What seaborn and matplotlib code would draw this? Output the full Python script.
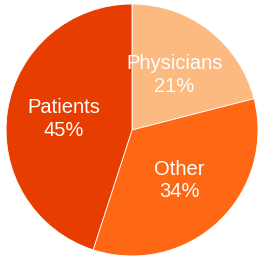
import seaborn as sns
import matplotlib.pyplot as plt

# Share of respondents
groups = ["Physicians", "Other", "Patients"]
shares = [21, 34, 45]
colors = ["#FDBA80", "#FE6714", "#E83D00"]

sns.set_theme(style="white")
plt.rcParams['font.family'] = ['Liberation Sans', 'DejaVu Sans']

fig = plt.figure(figsize=(2.58, 2.58), dpi=100)
ax = fig.add_axes([0, 0, 1, 1])

labels = [f"{g}\n{s}%" for g, s in zip(groups, shares)]
ax.pie(shares, labels=labels, colors=sns.color_palette(colors),
       startangle=90, counterclock=False, labeldistance=0.55,
       wedgeprops=dict(edgecolor="white", linewidth=0.6),
       textprops=dict(color="white", fontsize=14.5, ha="center", va="center",
                      linespacing=1.25))

ax.set_aspect("equal")
ax.set_xlim(-1.048, 1.0)
ax.set_ylim(-1.016, 1.032)
ax.axis("off")

fig.savefig("out.png", dpi=100, facecolor="white")
